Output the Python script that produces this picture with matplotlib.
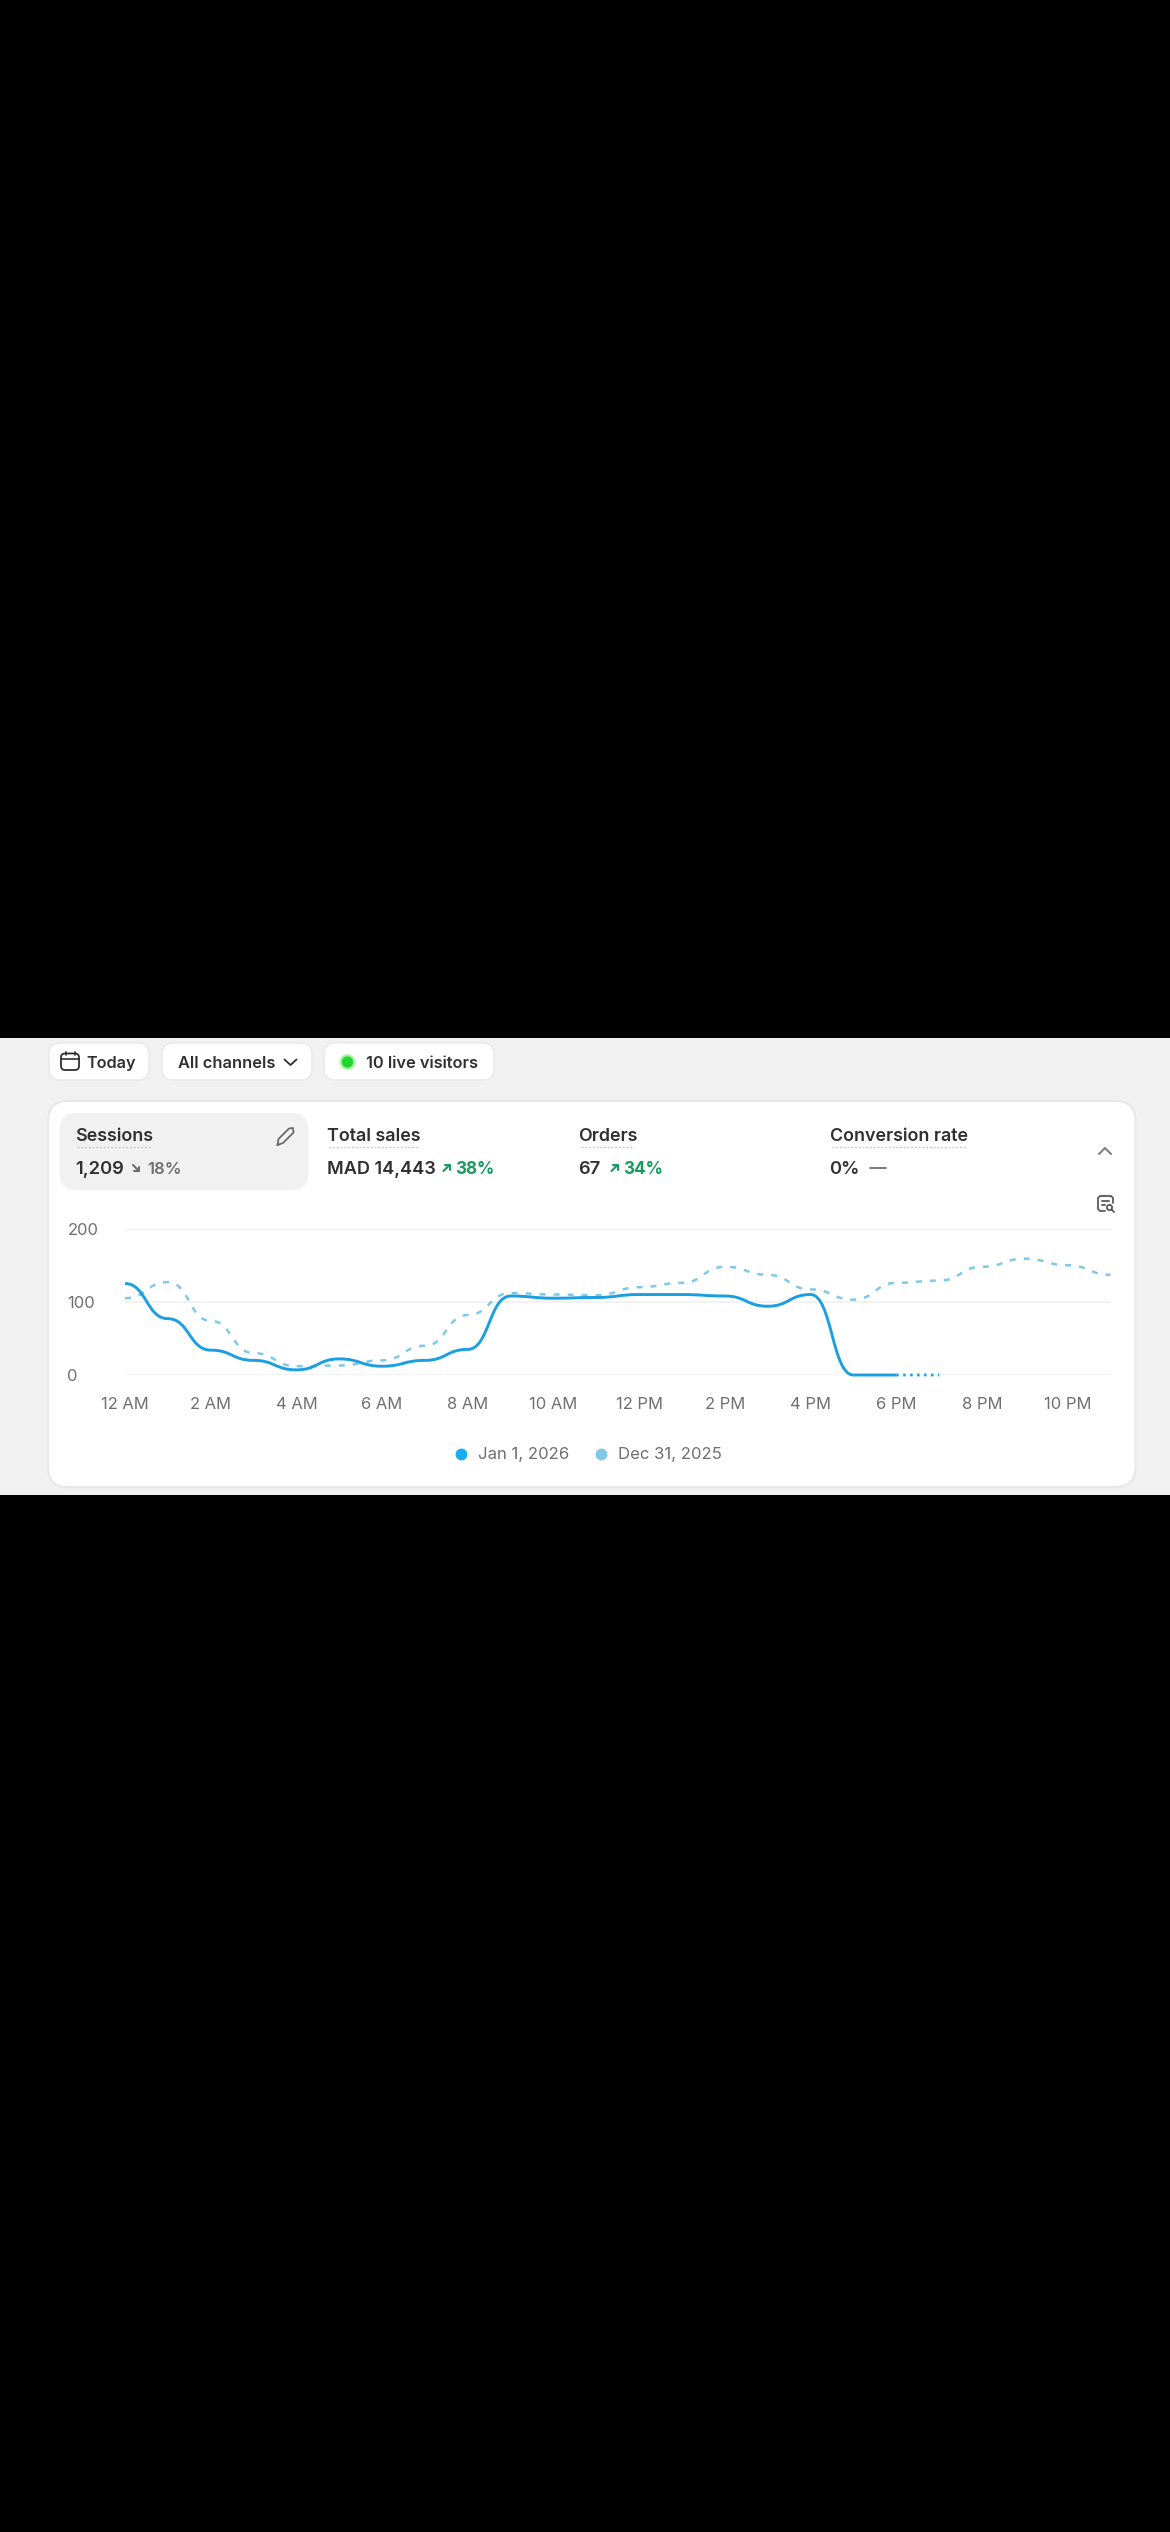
import matplotlib
matplotlib.use("Agg")
import matplotlib.pyplot as plt
from matplotlib.patches import FancyBboxPatch, Rectangle, PathPatch, Circle
from matplotlib.path import Path
from matplotlib.lines import Line2D

plt.rcParams['font.family'] = ['Inter', 'DejaVu Sans']

# ---- data ----
hours = list(range(24))
tick_hours = [0, 2, 4, 6, 8, 10, 12, 14, 16, 18, 20, 22]
tick_labels = ['12 AM', '2 AM', '4 AM', '6 AM', '8 AM', '10 AM', '12 PM', '2 PM', '4 PM', '6 PM', '8 PM', '10 PM']
y_ticks = [0, 100, 200]
current_values = [125, 77, 34, 20, 7, 22, 12, 20, 35, 108, 105, 106, 110, 110, 108, 94, 110, 0, 0, 0]
previous_values = [105, 127, 74, 30, 12, 13, 20, 40, 82, 112, 110, 109, 120, 126, 148, 137, 117, 103, 126, 129, 148, 159, 150, 137]
last_complete_hour = 18
current_label = 'Jan 1, 2026'
previous_label = 'Dec 31, 2025'

W, H = 1170, 2532
INK = '#303030'
MUTED = '#6f6f6f'
GREEN = '#1a9a60'
BLUE = '#1a9fe3'
LIGHT = '#7fc8ea'

fig = plt.figure(figsize=(W / 100, H / 100), dpi=100, facecolor='black')
bg = fig.add_axes([0, 0, 1, 1], zorder=0)
bg.set_xlim(0, W)
bg.set_ylim(H, 0)
bg.axis('off')


def rbox(x0, y0, x1, y1, r, fc, ec='none', lw=0, z=1):
    bg.add_patch(FancyBboxPatch((x0 + r, y0 + r), x1 - x0 - 2 * r, y1 - y0 - 2 * r,
                                boxstyle=f'round,pad={r},rounding_size={r}',
                                fc=fc, ec=ec, lw=lw, zorder=z))


def txt(x, y, s, size=13, color=INK, weight='normal', ha='left'):
    bg.text(x, y, s, fontsize=size, color=color, fontweight=weight, ha=ha, va='center_baseline', zorder=5)


def stroke(xs, ys, color=INK, lw=1.4, ls='-', z=5):
    bg.plot(xs, ys, color=color, lw=lw, ls=ls, solid_capstyle='round', solid_joinstyle='round', zorder=z)


# panel and card
bg.add_patch(Rectangle((0, 1038), W, 457, fc='#f1f1f1', ec='none', zorder=0.5))
rbox(48, 1101, 1135.5, 1487, 20, '#ffffff', ec='#e8e8e8', lw=1.5)
rbox(60, 1113, 308, 1190, 16, '#f1f1f1')

# filter buttons
for x0, x1 in [(49, 149), (162, 312), (324, 494)]:
    rbox(x0, 1043, x1, 1080, 11, '#ffffff', ec='#e8e8e8', lw=1)
txt(86, 1062, 'Today', 11.7, weight='semibold')
txt(178.5, 1062, 'All channels', 11.8, weight='semibold')
txt(366.5, 1062, '10 live visitors', 11.8, weight='semibold')

# calendar icon
rbox(61, 1053.5, 79, 1070, 4, 'none', ec=INK, lw=1.3, z=5)
stroke([61.5, 78.5], [1059, 1059], lw=1.2)
stroke([65.5, 65.5], [1051.5, 1054.5], lw=1.2)
stroke([74.5, 74.5], [1051.5, 1054.5], lw=1.2)
# dropdown chevron
stroke([284.5, 290.5, 296.5], [1059.5, 1065, 1059.5], lw=1.3)
# live dot
bg.add_patch(Circle((347.5, 1062), 8.5, fc='#d2f7d2', ec='none', zorder=4))
bg.add_patch(Circle((347.5, 1062), 7, fc='#8cf08c', ec='none', zorder=4))
bg.add_patch(Circle((347.5, 1062), 5.5, fc='#22d42e', ec='none', zorder=4))

# KPI tiles
txt(75, 1134.5, 'Sessions', 12.9, weight='semibold')
txt(327, 1134.5, 'Total sales', 12.9, weight='semibold')
txt(578, 1134.5, 'Orders', 12.9, weight='semibold')
txt(829.5, 1134.5, 'Conversion rate', 12.9, weight='semibold')
for x0, x1 in [(77, 150), (329, 417), (581, 634), (832, 966)]:
    bg.plot([x0, x1], [1147, 1147], color='#c4c4c4', lw=0.9, ls=(0, (1.5, 1.5)), zorder=5)

txt(75, 1168, '1,209', 13.2, weight='semibold')
txt(147, 1168, '18%', 12, color=MUTED, weight='semibold')
txt(327, 1168, 'MAD 14,443', 13.0, weight='semibold')
txt(455, 1168, '38%', 12.3, color=GREEN, weight='bold')
txt(578, 1168, '67', 13.2, weight='semibold')
txt(623.5, 1168, '34%', 12.3, color=GREEN, weight='bold')
txt(829.5, 1168, '0%', 13.2, weight='semibold')
stroke([870, 885.5], [1167.5, 1167.5], color=MUTED, lw=1.3)


def arrow_up(x, y, color):
    stroke([x, x + 6], [y + 6, y], color=color, lw=1.5)
    stroke([x + 1.5, x + 6, x + 6], [y, y, y + 4.5], color=color, lw=1.5)


arrow_up(443.5, 1165, GREEN)
arrow_up(611.5, 1165, GREEN)
stroke([133, 139], [1165, 1171], color=MUTED, lw=1.5)
stroke([133.5, 139, 139], [1171, 1171, 1166.5], color=MUTED, lw=1.5)

# pencil icon
stroke([277.5, 278.5, 289, 293, 293.5, 283, 277.5], [1145, 1139, 1128.5, 1128, 1132.5, 1143, 1145], color='#6a6a6a', lw=1.3)
# collapse chevron
stroke([1099, 1105, 1111], [1154, 1148, 1154], color='#808080', lw=1.5)
# report icon
stroke([1105, 1100, 1098, 1098, 1100, 1104], [1211, 1211, 1209, 1198, 1196, 1196], color='#5a5a5a', lw=1.3)
stroke([1104, 1111, 1113, 1113], [1196, 1196, 1198, 1203], color='#5a5a5a', lw=1.3)
stroke([1102, 1109], [1201, 1201], color='#5a5a5a', lw=1.3)
stroke([1102, 1105], [1205, 1205], color='#5a5a5a', lw=1.3)
bg.add_patch(Circle((1109.5, 1207.5), 2.6, fc='none', ec='#5a5a5a', lw=1.3, zorder=5))
stroke([1111.5, 1114], [1209.5, 1212], color='#5a5a5a', lw=1.3)

# chart axes: hour 0..23 spans x 125..1110.5, value 0..200 spans y 1375..1228.7
x_left, x_right, y_bottom, y_top = 125, 1110.5, 1375, 1228.7
ax = fig.add_axes([x_left / W, 1 - y_bottom / H, (x_right - x_left) / W, (y_bottom - y_top) / H], zorder=2)
ax.patch.set_alpha(0)
ax.set_xlim(0, 23)
ax.set_ylim(0, 200)
for s in ax.spines.values():
    s.set_visible(False)
ax.set_xticks(tick_hours, tick_labels)
ax.set_yticks(y_ticks)
ax.tick_params(axis='both', length=0, labelsize=11.9, labelcolor=MUTED)
ax.tick_params(axis='x', pad=16)
ax.tick_params(axis='y', pad=41.5)
for lab in ax.get_yticklabels():
    lab.set_ha('left')
ax.grid(axis='y', color='#f1f1f1', lw=1.3)
ax.set_axisbelow(True)


def bump(xs, ys):
    """Bezier path through the points with horizontal tangents (curveBumpX)."""
    verts = [(xs[0], ys[0])]
    codes = [Path.MOVETO]
    for i in range(1, len(xs)):
        xm = (xs[i - 1] + xs[i]) / 2
        verts += [(xm, ys[i - 1]), (xm, ys[i]), (xs[i], ys[i])]
        codes += [Path.CURVE4] * 3
    return Path(verts, codes)


ax.add_patch(PathPatch(bump(hours[:len(previous_values)], previous_values), fc='none', ec=LIGHT, lw=1.8,
                       ls=(0, (2.4, 3.2)), clip_on=False, zorder=3))
n = last_complete_hour + 1
ax.add_patch(PathPatch(bump(hours[:n], current_values[:n]), fc='none', ec=BLUE, lw=2.1, clip_on=False, zorder=4))
ax.add_patch(PathPatch(bump(hours[n - 1:len(current_values)], current_values[n - 1:]), fc='none', ec=BLUE, lw=2.0,
                       ls=(0, (0.9, 1.6)), clip_on=False, zorder=4))

handles = [Line2D([], [], ls='none', marker='o', ms=8.5, mfc='#1aabf0', mec='none', label=current_label),
           Line2D([], [], ls='none', marker='o', ms=8.5, mfc=LIGHT, mec='none', label=previous_label)]
leg = fig.legend(handles=handles, loc='center', bbox_to_anchor=(588 / W, 1 - 1455 / H), ncol=2, frameon=False,
                 fontsize=12, handlelength=0.8, handletextpad=0.6, columnspacing=1.55, labelcolor=MUTED)
leg.set_zorder(6)

fig.savefig('out.png', dpi=100, facecolor='black')
